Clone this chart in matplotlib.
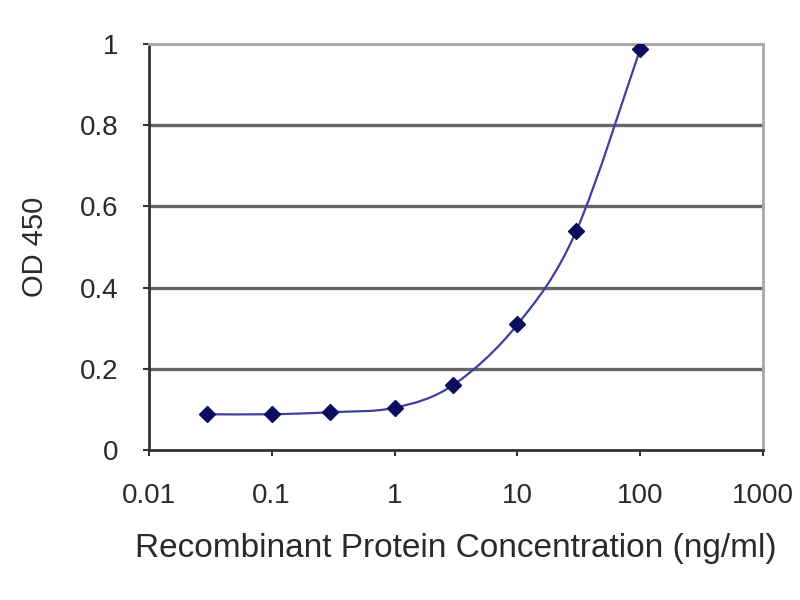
import numpy as np
import matplotlib
matplotlib.use("Agg")
import matplotlib.pyplot as plt
from matplotlib.path import Path
from matplotlib.patches import PathPatch

# values
conc = [0.03, 0.1, 0.3, 1, 3, 10, 30, 100]
od450 = [0.088, 0.088, 0.093, 0.104, 0.160, 0.309, 0.538, 0.988]
x_ticks = [0.01, 0.1, 1, 10, 100, 1000]
x_tick_labels = ["0.01", "0.1", "1", "10", "100", "1000"]
y_ticks = [0, 0.2, 0.4, 0.6, 0.8, 1]
y_tick_labels = ["0", "0.2", "0.4", "0.6", "0.8", "1"]

plt.rcParams["font.family"] = ["Liberation Sans", "DejaVu Sans"]
text_col = "#2a2a2a"


def smooth_path(xs, ys):
    # Excel-like smoothed line: cubic bezier segments, control points from
    # neighbouring points (catmull-rom), built in log-x space
    u = np.log10(np.asarray(xs, float))
    v = np.asarray(ys, float)
    n = len(u)
    verts = [(u[0], v[0])]
    codes = [Path.MOVETO]
    for i in range(n - 1):
        p0 = np.array([u[max(i - 1, 0)], v[max(i - 1, 0)]])
        p1 = np.array([u[i], v[i]])
        p2 = np.array([u[i + 1], v[i + 1]])
        p3 = np.array([u[min(i + 2, n - 1)], v[min(i + 2, n - 1)]])
        c1 = p1 + (p2 - p0) / 6.0
        c2 = p2 - (p3 - p1) / 6.0
        verts += [tuple(c1), tuple(c2), tuple(p2)]
        codes += [Path.CURVE4] * 3
    verts = [(10 ** a, b) for a, b in verts]
    return Path(verts, codes)


fig = plt.figure(figsize=(8, 6), dpi=100)
ax = fig.add_axes([0.186, 0.25, 0.768, 0.677])
ax.set_xscale("log")
ax.set_xlim(0.01, 1000)
ax.set_ylim(0, 1)

for yv in y_ticks[1:-1]:
    ax.axhline(yv, color="#666666", lw=2.4, zorder=1)
ax.axhline(1, color="#a8a8a8", lw=2.2, zorder=1)

ax.add_patch(PathPatch(smooth_path(conc, od450), facecolor="none",
                       edgecolor="#3e3ea4", lw=1.6, zorder=3))
ax.plot(conc, od450, linestyle="none", marker="D", markersize=8,
        color="#0c0c5e", zorder=4)

ax.set_xticks(x_ticks)
ax.set_xticklabels(x_tick_labels)
ax.minorticks_off()
ax.set_yticks(y_ticks)
ax.set_yticklabels(y_tick_labels)
ax.tick_params(axis="both", length=4, width=1.5, color="#333333",
               labelsize=20, labelcolor=text_col)
ax.tick_params(axis="y", pad=18)
ax.tick_params(axis="x", pad=20)

for side in ["left", "bottom"]:
    ax.spines[side].set_color("#333333")
    ax.spines[side].set_linewidth(2)
for side in ["top", "right"]:
    ax.spines[side].set_color("#a8a8a8")
    ax.spines[side].set_linewidth(2)

ax.set_xlabel("Recombinant Protein Concentration (ng/ml)", fontsize=24,
              color=text_col, labelpad=17)
ax.set_ylabel("OD 450", fontsize=21, color=text_col, labelpad=22)

fig.savefig("out.png", dpi=100, facecolor="white")
